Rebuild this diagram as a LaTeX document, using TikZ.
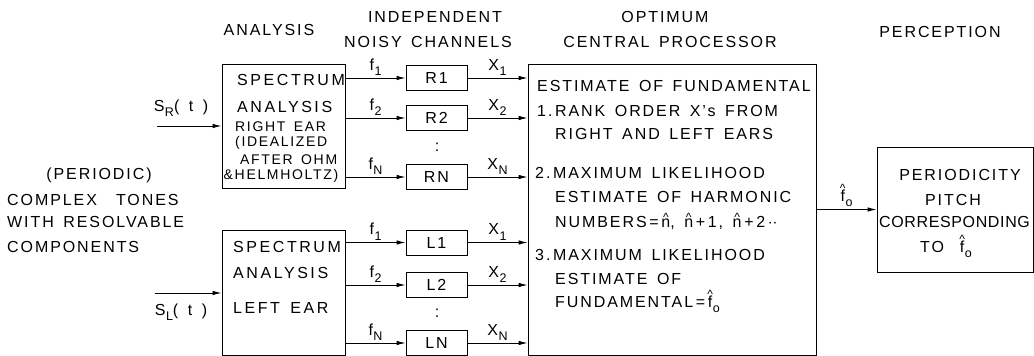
\documentclass[tikz,border=0pt]{standalone}
\usepackage{fontspec}
\setmainfont{Liberation Sans}[LetterSpace=12, WordSpace=1.5]
\usetikzlibrary{arrows.meta}
\newcommand\lsub[1]{\kern0.5pt\raisebox{-0.6ex}{\fontsize{12.5}{12.5}\selectfont #1}}
\newcommand\hatx[2]{\leavevmode\ooalign{#2\cr\hidewidth\raisebox{#1}{\fontsize{12}{12}\selectfont\addfontfeatures{LetterSpace=0}\symbol{"5E}}\hidewidth\cr}}
\newcommand\fhat{\hatx{9pt}{f}\lsub{o}}
\newcommand\nhat{\hatx{5.5pt}{n}}
\tikzset{
  box/.style={draw, line width=0.9pt, inner sep=0pt},
  arr/.style={line width=0.9pt, -{Latex[length=9pt,width=4.5pt]}},
  txt/.style={inner sep=0pt, font=\fontsize{16}{18}\selectfont},
  small/.style={inner sep=0pt, font=\fontsize{14}{16}\selectfont},
  lbl/.style={inner sep=1pt, above=1pt, font=\fontsize{16}{18}\selectfont},
}
\begin{document}
\begin{tikzpicture}[x=1pt,y=-1pt]
\useasboundingbox (0,0) rectangle (1034,356);
% titles
\node[txt] (tana) at (269,30) {ANALYSIS};
\node[txt] (tind) at (435,17) {INDEPENDENT};
\node[txt] (tnoi) at (428,42) {NOISY CHANNELS};
\node[txt] (topt) at (665,17) {OPTIMUM};
\node[txt] (tcen) at (670,42) {CENTRAL PROCESSOR};
\node[txt] (tper) at (940,32) {PERCEPTION};
% left text
\node[txt] (p1) at (99,175) {(PERIODIC)};
\node[txt, anchor=west] (p2) at (7,200) {COMPLEX\ \ TONES};
\node[txt, anchor=west] (p3) at (7,222) {WITH RESOLVABLE};
\node[txt, anchor=west] (p4) at (7,247) {COMPONENTS};
% analysis boxes
\node[box, minimum width=123pt, minimum height=124pt] (ra) at (283.5,126) {};
\node[box, minimum width=123pt, minimum height=125pt] (la) at (283.5,292.5) {};
\node[txt, anchor=west] (ra1) at (237,80) {\addfontfeatures{LetterSpace=16}SPECTRUM};
\node[txt, anchor=west] (ra2) at (237,107) {\addfontfeatures{LetterSpace=16}ANALYSIS};
\node[small, anchor=west] (ra3) at (235,127) {RIGHT EAR};
\node[small, anchor=west] (ra4) at (235,143) {(IDEALIZED};
\node[small, anchor=west] (ra5) at (240,160) {AFTER OHM};
\node[small, anchor=west] (ra6) at (223.5,176) {\&HELMHOLTZ)};
\node[txt, anchor=west] (la1) at (233,247) {\addfontfeatures{LetterSpace=16}SPECTRUM};
\node[txt, anchor=west] (la2) at (233,273) {\addfontfeatures{LetterSpace=16}ANALYSIS};
\node[txt, anchor=west] (la3) at (233,308) {\addfontfeatures{LetterSpace=16}LEFT EAR};
% inputs
\node[txt] (sr) at (181,108) {S\lsub{R}( t )};
\node[txt] (sl) at (181,312) {S\lsub{L}( t )};
\coordinate (srin) at (157,126);
\coordinate (slin) at (155,293);
\draw[arr] (srin) -- (srin -| ra.west);
\draw[arr] (slin) -- (slin -| la.west);
% channel boxes
\node[box, minimum width=61pt, minimum height=25pt, txt] (r1) at (436.5,78) {R1};
\node[box, minimum width=61pt, minimum height=25pt, txt] (r2) at (436.5,118) {R2};
\node[box, minimum width=61pt, minimum height=25pt, txt] (rn) at (436.5,177) {RN};
\node[box, minimum width=61pt, minimum height=25pt, txt] (l1) at (436.5,242.5) {L1};
\node[box, minimum width=61pt, minimum height=25pt, txt] (l2) at (436.5,285) {L2};
\node[box, minimum width=61pt, minimum height=25pt, txt] (ln) at (436.5,343) {LN};
\node[txt] (rdots) at (437,147) {:};
\node[txt] (ldots) at (437,313) {:};
% central processor
\node[box, minimum width=288pt, minimum height=291pt] (cp) at (672,209.5) {};
\node[txt, anchor=base west] (c1) at (537,91) {ESTIMATE OF FUNDAMENTAL};
\node[txt, anchor=base west] (c2) at (537,116) {1.\,RANK ORDER X's FROM};
\node[txt, anchor=base west] (c3) at (555,139) {RIGHT AND LEFT EARS};
\node[txt, anchor=base west] (c4) at (535,178) {2.\,MAXIMUM LIKELIHOOD};
\node[txt, anchor=base west] (c5) at (555,202) {ESTIMATE OF HARMONIC};
\node[txt, anchor=base west] (c6) at (555,227) {NUMBERS\,=\,\nhat,\ \nhat\,+\,1,\ \nhat\,+\,2\,$\cdot\cdot$};
\node[txt, anchor=base west] (c7) at (535,260) {3.\,MAXIMUM LIKELIHOOD};
\node[txt, anchor=base west] (c8) at (555,284) {ESTIMATE OF};
\node[txt, anchor=base west] (c9) at (555,307) {FUNDAMENTAL\,=\,\fhat};
% perception
\node[box, minimum width=156pt, minimum height=125pt] (pp) at (955,209.5) {};
\node[txt] (pp1) at (960,175) {PERIODICITY};
\node[txt] (pp2) at (953,200) {PITCH};
\node[txt] (pp3) at (954.5,222) {\addfontfeatures{LetterSpace=4}CORRESPONDING};
\node[txt] (pp4) at (946,249) {TO\quad\fhat};
% connectors right
\draw[arr] (ra.east |- r1.west) -- node[lbl]{f\lsub{1}} (r1.west);
\draw[arr] (ra.east |- r2.west) -- node[lbl]{f\lsub{2}} (r2.west);
\draw[arr] (ra.east |- rn.west) -- node[lbl]{f\lsub{N}} (rn.west);
\draw[arr] (r1.east) -- node[lbl]{X\lsub{1}} (r1.east -| cp.west);
\draw[arr] (r2.east) -- node[lbl]{X\lsub{2}} (r2.east -| cp.west);
\draw[arr] (rn.east) -- node[lbl]{X\lsub{N}} (rn.east -| cp.west);
\draw[arr] (la.east |- l1.west) -- node[lbl]{f\lsub{1}} (l1.west);
\draw[arr] (la.east |- l2.west) -- node[lbl]{f\lsub{2}} (l2.west);
\draw[arr] (la.east |- ln.west) -- node[lbl]{f\lsub{N}} (ln.west);
\draw[arr] (l1.east) -- node[lbl]{X\lsub{1}} (l1.east -| cp.west);
\draw[arr] (l2.east) -- node[lbl]{X\lsub{2}} (l2.east -| cp.west);
\draw[arr] (ln.east) -- node[lbl]{X\lsub{N}} (ln.east -| cp.west);
\draw[arr] (cp.east |- pp.west) -- node[lbl]{\fhat} (pp.west);
\end{tikzpicture}
\end{document}
